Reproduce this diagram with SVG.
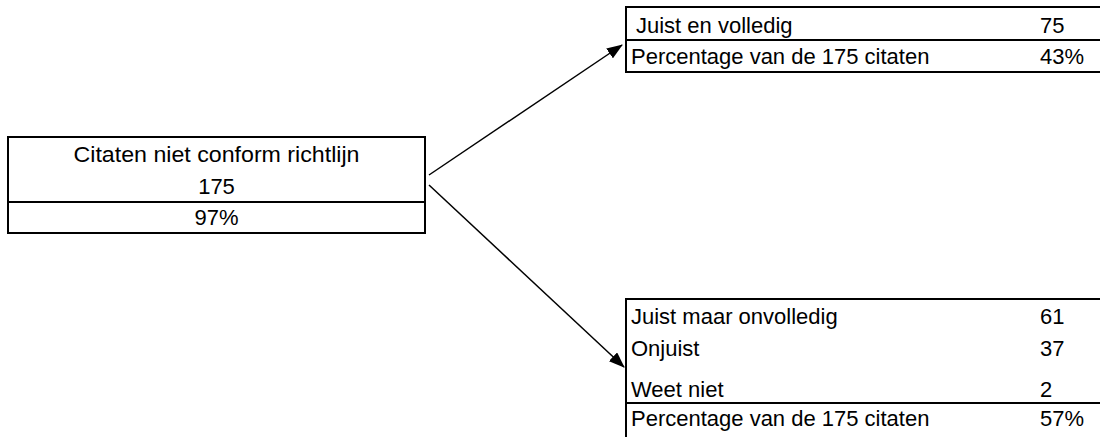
<svg xmlns="http://www.w3.org/2000/svg" width="1100" height="437" viewBox="0 0 1100 437">
  <style>
    .box { fill: #ffffff; stroke: #000000; stroke-width: 2; }
    .div { stroke: #000000; stroke-width: 2; }
    .t { font-family: "Liberation Sans", Arial, sans-serif; font-size: 22px; fill: #000000; }
    .c { text-anchor: middle; }
    .conn { stroke: #000000; stroke-width: 1.5; fill: none; }
  </style>
  <defs>
    <marker id="arrow" markerUnits="userSpaceOnUse" markerWidth="16" markerHeight="12" refX="15" refY="6" orient="auto">
      <path d="M0,0 L16,6 L0,12 z" fill="#000000"/>
    </marker>
  </defs>
  <rect width="1100" height="437" fill="#ffffff"/>

  <g id="source">
    <rect class="box" x="8" y="137" width="417" height="96"/>
    <line class="div" x1="8" y1="202" x2="425" y2="202"/>
    <text class="t c" x="216.5" y="162" textLength="286" lengthAdjust="spacingAndGlyphs">Citaten niet conform richtlijn</text>
    <text class="t c" x="216.5" y="194">175</text>
    <text class="t c" x="216.5" y="225">97%</text>
  </g>

  <g id="correct">
    <rect class="box" x="626" y="7" width="480" height="65"/>
    <line class="div" x1="626" y1="40" x2="1106" y2="40"/>
    <text class="t" x="636" y="33">Juist en volledig</text>
    <text class="t" x="1040" y="33">75</text>
    <text class="t" x="631" y="64">Percentage van de 175 citaten</text>
    <text class="t" x="1040" y="64">43%</text>
  </g>

  <g id="other">
    <rect class="box" x="626" y="299" width="480" height="142"/>
    <line class="div" x1="626" y1="403" x2="1106" y2="403"/>
    <text class="t" x="631" y="324">Juist maar onvolledig</text>
    <text class="t" x="1040" y="324">61</text>
    <text class="t" x="631" y="356">Onjuist</text>
    <text class="t" x="1040" y="356">37</text>
    <text class="t" x="631" y="397">Weet niet</text>
    <text class="t" x="1040" y="397">2</text>
    <text class="t" x="631" y="426">Percentage van de 175 citaten</text>
    <text class="t" x="1040" y="426">57%</text>
  </g>

  <g id="connectors">
    <line class="conn" x1="429" y1="175" x2="622" y2="45" marker-end="url(#arrow)"/>
    <line class="conn" x1="429" y1="185" x2="624" y2="367" marker-end="url(#arrow)"/>
  </g>
</svg>
